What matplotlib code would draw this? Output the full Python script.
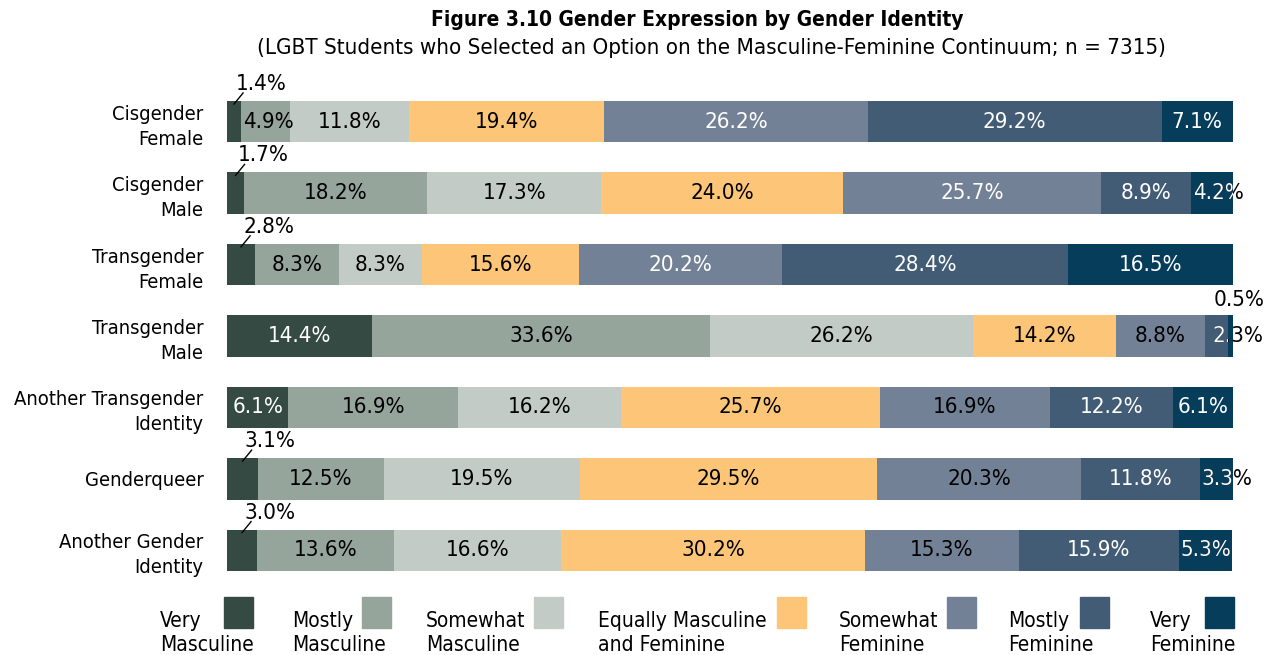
import matplotlib
matplotlib.use("Agg")
import matplotlib.pyplot as plt
import matplotlib.transforms as mtransforms
from matplotlib.patches import Rectangle

plt.rcParams["font.family"] = ["Liberation Sans Narrow", "DejaVu Sans"]
plt.rcParams["font.stretch"] = "condensed"

# ---- data -------------------------------------------------------------
categories = [
    "Cisgender\nFemale",
    "Cisgender\nMale",
    "Transgender\nFemale",
    "Transgender\nMale",
    "Another Transgender\nIdentity",
    "Genderqueer",
    "Another Gender\nIdentity",
]
series_names = [
    "Very\nMasculine",
    "Mostly\nMasculine",
    "Somewhat\nMasculine",
    "Equally Masculine\nand Feminine",
    "Somewhat\nFeminine",
    "Mostly\nFeminine",
    "Very\nFeminine",
]
very_masculine     = [1.4, 1.7, 2.8, 14.4, 6.1, 3.1, 3.0]
mostly_masculine   = [4.9, 18.2, 8.3, 33.6, 16.9, 12.5, 13.6]
somewhat_masculine = [11.8, 17.3, 8.3, 26.2, 16.2, 19.5, 16.6]
equally            = [19.4, 24.0, 15.6, 14.2, 25.7, 29.5, 30.2]
somewhat_feminine  = [26.2, 25.7, 20.2, 8.8, 16.9, 20.3, 15.3]
mostly_feminine    = [29.2, 8.9, 28.4, 2.3, 12.2, 11.8, 15.9]
very_feminine      = [7.1, 4.2, 16.5, 0.5, 6.1, 3.3, 5.3]

series = [very_masculine, mostly_masculine, somewhat_masculine, equally,
          somewhat_feminine, mostly_feminine, very_feminine]

colors = ["#344a42", "#96a59c", "#c2cbc5", "#fcc577",
          "#738197", "#425c76", "#053d5b"]

# label colour for each series/row
label_color = [
    ["white"] * 7,
    ["black"] * 7,
    ["black"] * 7,
    ["black"] * 7,
    ["white", "white", "white", "black", "black", "black", "black"],
    ["white"] * 7,
    ["white"] * 7,
]

# ---- figure -----------------------------------------------------------
W, H = 1271, 655
fig = plt.figure(figsize=(W / 100, H / 100), dpi=100)

def fx(px):
    return px / W

def fy(py):
    return 1 - py / H

ax = fig.add_axes([fx(227), fy(586), fx(1233) - fx(227), fy(86) - fy(586)])
ax.set_xlim(0, 100)
ax.set_ylim(len(categories) - 0.5, -0.5)
for s in ax.spines.values():
    s.set_visible(False)
ax.set_xticks([])
ax.set_yticks(range(len(categories)))
ax.set_yticklabels(categories, fontsize=14.5, ha="right", multialignment="right",
                   linespacing=1.4)
ax.tick_params(axis="y", length=0, pad=17)

bar_h = 0.58
fs = 16
left = [0.0] * len(categories)
for si, vals in enumerate(series):
    bars = ax.barh(range(len(categories)), vals, left=left, height=bar_h,
                   color=colors[si], edgecolor="none")
    for ri, (v, b) in enumerate(zip(vals, bars)):
        start = left[ri]
        mid = start + v / 2
        col = label_color[si][ri]
        txt = f"{v:.1f}%"
        top = ri - bar_h / 2
        if si == 0 and v < 4:
            # small leading segment: label above the bar with a short leader
            ax.annotate(txt, xy=(mid, top), xytext=(2, 17), textcoords="offset pixels",
                        ha="left", va="center", fontsize=fs, color="black",
                        annotation_clip=False)
            t1 = mtransforms.offset_copy(ax.transData, fig=fig, x=0, y=-3, units="dots")
            t2 = mtransforms.offset_copy(ax.transData, fig=fig, x=9, y=8, units="dots")
            p1 = t1.transform((mid, top))
            p2 = t2.transform((mid, top))
            ax.plot([p1[0], p2[0]], [p1[1], p2[1]], color="black", lw=1,
                    transform=None, clip_on=False)
        elif v < 1:
            # tiny trailing segment: label above the bar end
            ax.annotate(txt, xy=(start + v, top), xytext=(32, 15), textcoords="offset pixels",
                        ha="right", va="center", fontsize=fs, color="black",
                        annotation_clip=False)
        elif v < 5.5 and not (si == 0):
            # narrow segment: left aligned, overflowing part drawn dark
            x0 = start
            dx = 8 if v < 3 else 2
            ax.annotate(txt, xy=(x0, ri), xytext=(dx, 0), textcoords="offset pixels",
                        ha="left", va="center", fontsize=fs, color="black",
                        annotation_clip=False)
            if col == "white":
                over = ax.annotate(txt, xy=(x0, ri), xytext=(dx, 0), textcoords="offset pixels",
                                   ha="left", va="center", fontsize=fs, color="white",
                                   annotation_clip=False)
                over.set_clip_path(b)
        else:
            ax.text(mid, ri, txt, ha="center", va="center", fontsize=fs, color=col)
    left = [l + v for l, v in zip(left, vals)]

# ---- titles -----------------------------------------------------------
fig.text(fx(697), fy(20), "Figure 3.10 Gender Expression by Gender Identity",
         ha="center", va="center", fontsize=15, fontweight="bold")
fig.text(fx(711), fy(48),
         "(LGBT Students who Selected an Option on the Masculine-Feminine Continuum; n = 7315)",
         ha="center", va="center", fontsize=16)

# ---- legend -----------------------------------------------------------
text_x = [160, 292, 426, 598, 839, 1008, 1150]
patch_x = [224, 362, 534, 777, 947, 1080, 1205]
for name, c, tx, px in zip(series_names, colors, text_x, patch_x):
    fig.text(fx(tx), fy(633), name, ha="left", va="center", fontsize=15,
             linespacing=1.3)
    fig.patches.append(Rectangle((fx(px), fy(628)), fx(29), fy(597) - fy(628),
                                 transform=fig.transFigure, color=c, figure=fig))

fig.savefig("out.png", dpi=100)
